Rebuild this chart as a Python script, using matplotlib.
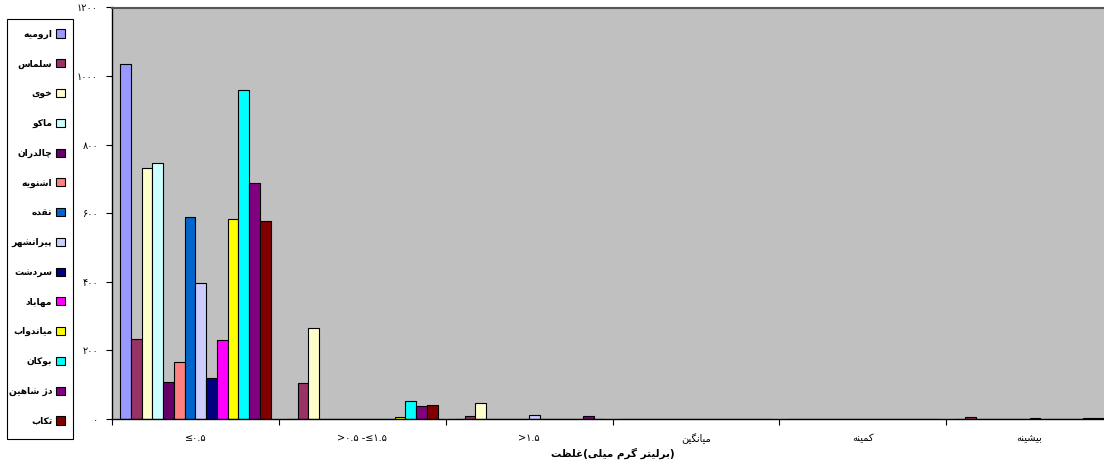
import re
import numpy as np
import matplotlib
matplotlib.use('Agg')
import matplotlib.pyplot as plt
from matplotlib.patches import Rectangle

# Bar chart of fluoride concentration classes for cities (counts per class)

cities = ['ارومیه', 'سلماس', 'خوی', 'ماکو', 'چالدران', 'اشنویه', 'نقده',
          'پیرانشهر', 'سردشت', 'مهاباد', 'میاندواب', 'بوکان', 'شاهین دژ', 'تکاب']
colors = ['#9999FF', '#993366', '#FFFFCC', '#CCFFFF', '#660066', '#FF8080', '#0066CC',
          '#CCCCFF', '#000080', '#FF00FF', '#FFFF00', '#00FFFF', '#800080', '#800000']

# x tick labels, as they appear left to right
groups = ['≤۰.۵', '>۰.۵ -≤۱.۵', '>۱.۵', 'میانگین', 'کمینه', 'بیشینه']

# one list per group, one value per city
le_05 = [1034, 233, 733, 746, 107, 165, 590, 396, 119, 230, 583, 958, 689, 576]
mid_15 = [1, 104, 264, 0, 0, 0, 0, 0, 0, 0, 6, 52, 38, 42]
gt_15 = [0, 10, 46, 0, 0, 0, 0, 12, 0, 0, 0, 0, 10, 0]
mean_v = [0.3, 1.2, 1.0, 0.2, 0.2, 0.2, 0.2, 0.8, 0.2, 0.2, 0.2, 0.3, 0.6, 0.4]
min_v = [0.05, 0.05, 0.05, 0.05, 0.05, 0.05, 0.05, 0.05, 0.05, 0.05, 0.05, 0.05, 0.05, 0.05]
max_v = [0.9, 6.0, 1.4, 0.7, 0.5, 0.5, 0.6, 2.5, 0.6, 0.8, 0.8, 1.0, 2.4, 2.0]

yticks = [0, 200, 400, 600, 800, 1000, 1200]
xlabel = 'غلظت(میلی گرم برلیتر)'

# arabic presentation forms: isolated, final, initial, medial
FORMS = {
    'ا': ('\uFE8D', '\uFE8E', None, None),
    'ب': ('\uFE8F', '\uFE90', '\uFE91', '\uFE92'),
    'پ': ('\uFB56', '\uFB57', '\uFB58', '\uFB59'),
    'ت': ('\uFE95', '\uFE96', '\uFE97', '\uFE98'),
    'چ': ('\uFB7A', '\uFB7B', '\uFB7C', '\uFB7D'),
    'خ': ('\uFEA5', '\uFEA6', '\uFEA7', '\uFEA8'),
    'د': ('\uFEA9', '\uFEAA', None, None),
    'ر': ('\uFEAD', '\uFEAE', None, None),
    'ژ': ('\uFB8A', '\uFB8B', None, None),
    'س': ('\uFEB1', '\uFEB2', '\uFEB3', '\uFEB4'),
    'ش': ('\uFEB5', '\uFEB6', '\uFEB7', '\uFEB8'),
    'ظ': ('\uFEC5', '\uFEC6', '\uFEC7', '\uFEC8'),
    'غ': ('\uFECD', '\uFECE', '\uFECF', '\uFED0'),
    'ق': ('\uFED5', '\uFED6', '\uFED7', '\uFED8'),
    'ک': ('\uFB8E', '\uFB8F', '\uFB90', '\uFB91'),
    'گ': ('\uFB92', '\uFB93', '\uFB94', '\uFB95'),
    'ل': ('\uFEDD', '\uFEDE', '\uFEDF', '\uFEE0'),
    'م': ('\uFEE1', '\uFEE2', '\uFEE3', '\uFEE4'),
    'ن': ('\uFEE5', '\uFEE6', '\uFEE7', '\uFEE8'),
    'ه': ('\uFEE9', '\uFEEA', '\uFEEB', '\uFEEC'),
    'و': ('\uFEED', '\uFEEE', None, None),
    'ی': ('\uFBFC', '\uFBFD', '\uFBFE', '\uFBFF'),
}


def shape_word(w):
    out = []
    for i, c in enumerate(w):
        f = FORMS[c]
        prev = w[i - 1] if i > 0 else None
        nxt = w[i + 1] if i + 1 < len(w) else None
        jp = prev is not None and FORMS[prev][2] is not None
        jn = nxt is not None and f[2] is not None
        if jp and jn:
            g = f[3]
        elif jp:
            g = f[1]
        elif jn:
            g = f[2]
        else:
            g = f[0]
        out.append(g)
    return ''.join(reversed(out))


def fa(s):
    # join letters and put each word in visual order (no bidi in matplotlib)
    s = s.replace('\u064A', 'ی').replace('\u0643', 'ک')
    return re.sub('[%s]+' % ''.join(FORMS.keys()), lambda m: shape_word(m.group(0)), s)


W, H = 1104, 468
fig = plt.figure(figsize=(W / 100, H / 100), dpi=100)
ax = fig.add_axes([112 / W, (H - 419) / H, 1001 / W, 411.5 / H])
ax.set_facecolor('#C0C0C0')

data = np.array([le_05, mid_15, gt_15, mean_v, min_v, max_v])
n = len(cities)
w = 1 / (n + 1.5)
gap = 1 - n * w
x0 = np.arange(len(groups))
for i in range(n):
    ax.bar(x0 + gap / 2 + i * w, data[:, i], width=w, align='edge',
           color=colors[i], edgecolor='black', linewidth=0.8, label=fa(cities[i]))

ax.set_xlim(0, len(groups))
ax.set_ylim(0, 1200)

ax.set_xticks(np.arange(len(groups) + 1))
ax.set_xticklabels([])
ax.set_xticks(x0 + 0.5, minor=True)
ax.set_xticklabels([fa(g) for g in groups], minor=True, fontsize=7)
ax.tick_params(axis='x', which='major', direction='out', length=4, width=0.8)
ax.tick_params(axis='x', which='minor', length=0, pad=10)

pers = str.maketrans('0123456789', '۰۱۲۳۴۵۶۷۸۹')
ax.set_yticks(yticks)
ax.set_yticklabels([str(v).translate(pers) for v in yticks], fontsize=7)
ax.tick_params(axis='y', direction='out', length=4, width=0.8, pad=6)

for side in ['left', 'bottom']:
    ax.spines[side].set_color('black')
    ax.spines[side].set_linewidth(1)
ax.spines['top'].set_color('#555555')
ax.spines['top'].set_linewidth(1.5)
ax.spines['right'].set_visible(False)

ax.set_xlabel(fa(xlabel), fontsize=7.5, fontweight='bold', labelpad=3)

# legend entries without frame, frame drawn separately
leg = fig.legend(loc='upper right', bbox_to_anchor=(64.5 / W, 1 - 29.5 / H),
                 markerfirst=False, frameon=False,
                 prop={'weight': 'bold', 'size': 6.6}, handlelength=0.98, handleheight=0.98,
                 handletextpad=0.35, labelspacing=2.23, borderpad=0, borderaxespad=0)
for t in leg.get_texts():
    t.set_ha('right')
fig.patches.append(Rectangle((6.7 / W, 1 - 439.3 / H), 66.6 / W, 420 / H,
                             transform=fig.transFigure, facecolor='white',
                             edgecolor='black', linewidth=0.8, zorder=-1))

fig.savefig('out.png', dpi=100)
